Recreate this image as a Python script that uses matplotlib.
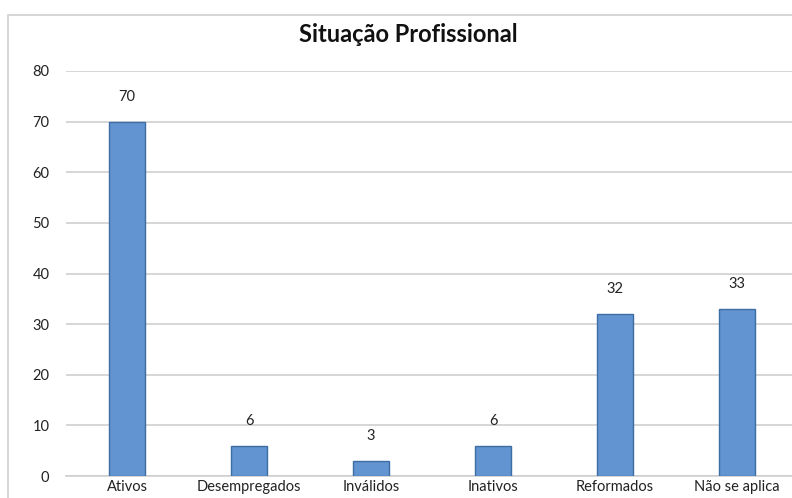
import matplotlib.pyplot as plt
from matplotlib.patches import Rectangle

categories = ["Ativos", "Desempregados", "Inválidos", "Inativos", "Reformados", "Não se aplica"]
values = [70, 6, 3, 6, 32, 33]
y_ticks = [0, 10, 20, 30, 40, 50, 60, 70, 80]

plt.rcParams['font.family'] = ['Lato', 'DejaVu Sans']

fig = plt.figure(figsize=(7.92, 4.98), dpi=100)
fig.patch.set_facecolor('white')

# outer chart border (cropped on the right and bottom like the source image)
fig.add_artist(Rectangle((8 / 792, -0.05), 1.0, 1 - 15 / 498 + 0.05,
                         transform=fig.transFigure, fill=False,
                         edgecolor='#d0d0d0', linewidth=1.2))

ax = fig.add_axes([66 / 792, 1 - 476 / 498, 732 / 792, (476 - 71) / 498])
x = range(len(categories))
ax.bar(x, values, width=0.3, color='#6194d1', edgecolor='#3d6da3', linewidth=1, zorder=3)

for xi, v in zip(x, values):
    ax.annotate(str(v), (xi, v), xytext=(0, 13), textcoords='offset points',
                ha='center', va='bottom', fontsize=10.5, color='#222222')

ax.set_xlim(-0.5, len(categories) - 0.5)
ax.set_ylim(0, 80)
ax.set_yticks(y_ticks)
ax.set_xticks(list(x))
ax.set_xticklabels(categories, fontsize=10.5, color='#222222')
ax.tick_params(axis='y', labelsize=10.5, colors='#222222', length=0, pad=12)
ax.tick_params(axis='x', length=0, pad=3)
ax.grid(axis='y', color='#cfcfcf', linewidth=1.2, zorder=0)
for side in ['top', 'right', 'left']:
    ax.spines[side].set_visible(False)
ax.spines['bottom'].set_color('#cfcfcf')
ax.spines['bottom'].set_linewidth(1.2)

fig.text(408 / 792, 1 - 35 / 498, "Situação Profissional", ha='center', va='center',
         fontsize=17, fontweight='bold', color='#111111')

fig.savefig('out.png', dpi=100)
